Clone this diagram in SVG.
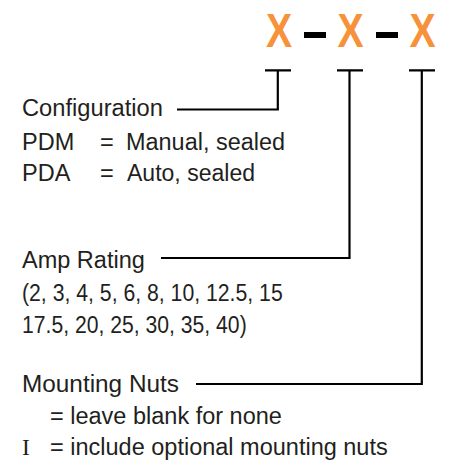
<svg xmlns="http://www.w3.org/2000/svg" width="449" height="467" viewBox="0 0 449 467">
<style>
.t{font-family:"Liberation Sans",Arial,sans-serif;font-size:23.5px;fill:#231F20}
.s{font-family:"Liberation Serif","Times New Roman",serif;font-size:23.5px;fill:#231F20}
.x{font-family:"Liberation Sans",Arial,sans-serif;font-weight:bold;font-size:49px;fill:#F7923A}
.c{fill:none;stroke:#000;stroke-width:2.2}
</style>
<rect width="449" height="467" fill="#fff"/>
<g id="code">
<text class="x" text-anchor="middle" transform="translate(279,47) scale(0.8,1)">X</text>
<rect x="304" y="32" width="22" height="6" fill="#000"/>
<text class="x" text-anchor="middle" transform="translate(350.5,47) scale(0.8,1)">X</text>
<rect x="376" y="32" width="22" height="6" fill="#000"/>
<text class="x" text-anchor="middle" transform="translate(422.5,47) scale(0.8,1)">X</text>
</g>
<g id="connectors">
<path class="c" d="M265,70.3H291M277.8,70.3V109.5H177"/>
<path class="c" d="M337,70.3H363M349.5,70.3V258H161"/>
<path class="c" d="M409,70.3H435M421.8,70.3V384H196"/>
</g>
<g id="configuration">
<text class="t" x="22" y="116" textLength="141" lengthAdjust="spacingAndGlyphs">Configuration</text>
<text class="t" x="22" y="149.5">PDM</text>
<text class="t" x="100" y="149.5">=</text>
<text class="t" x="126" y="149.5" textLength="159" lengthAdjust="spacingAndGlyphs">Manual, sealed</text>
<text class="t" x="22" y="181">PDA</text>
<text class="t" x="100" y="181">=</text>
<text class="t" x="127" y="181" textLength="128" lengthAdjust="spacingAndGlyphs">Auto, sealed</text>
</g>
<g id="amp-rating">
<text class="t" x="22" y="268">Amp Rating</text>
<text class="t" x="22" y="300.5" textLength="260.7" lengthAdjust="spacingAndGlyphs">(2, 3, 4, 5, 6, 8, 10, 12.5, 15</text>
<text class="t" x="22" y="332.5" textLength="224.7" lengthAdjust="spacingAndGlyphs">17.5, 20, 25, 30, 35, 40)</text>
</g>
<g id="mounting-nuts">
<text class="t" x="22" y="392" textLength="157" lengthAdjust="spacingAndGlyphs">Mounting Nuts</text>
<text class="t" x="50" y="424">= leave blank for none</text>
<text class="s" x="22" y="455">I</text>
<text class="t" x="50" y="455">= include optional mounting nuts</text>
</g>
</svg>
